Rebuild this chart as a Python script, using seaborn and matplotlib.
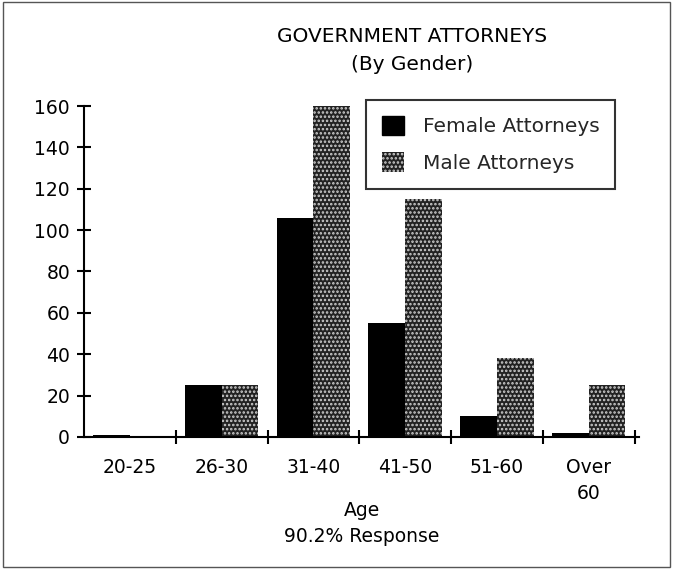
import matplotlib
matplotlib.use("Agg")
import matplotlib.pyplot as plt
import seaborn as sns
import pandas as pd
from matplotlib.patches import Patch, Rectangle

ages = ["20-25", "26-30", "31-40", "41-50", "51-60", "Over\n60"]
female = [1, 25, 106, 55, 10, 2]
male = [0, 25, 160, 115, 38, 25]
series = ["Female Attorneys", "Male Attorneys"]
yticks = [0, 20, 40, 60, 80, 100, 120, 140, 160]

df = pd.DataFrame({
    "Age": ages * 2,
    "Count": female + male,
    "Gender": [series[0]] * len(ages) + [series[1]] * len(ages),
})

sns.set_theme(style="white")
plt.rcParams["font.family"] = ["DejaVu Sans"]
plt.rcParams["hatch.linewidth"] = 1.2

FS = 13.5
MALE_FACE = "#222222"
DOT = "#cfcfcf"

fig = plt.figure(figsize=(6.73, 5.69), dpi=100)
ax = fig.add_axes([0.1248, 0.232, 0.825, 0.5817])

sns.barplot(data=df, x="Age", y="Count", hue="Gender", order=ages,
            hue_order=series, palette=["black", MALE_FACE], width=0.8,
            saturation=1, ax=ax, legend=False, linewidth=0)

n = len(ages)
for i, p in enumerate(ax.patches[: 2 * n]):
    if i >= n:
        p.set_facecolor(MALE_FACE)
        p.set_hatch("....")
        p.set_edgecolor(DOT)
        p.set_linewidth(0)

ax.set_xlim(-0.5, 5.55)
ax.set_ylim(0, 160)
ax.set_yticks(yticks)
ax.set_yticklabels([str(v) for v in yticks])
ax.set_xticks(range(n))
ax.set_xticklabels(ages, linespacing=1.5)
ax.set_xticks([i + 0.5 for i in range(n)], minor=True)

for s in ["top", "right"]:
    ax.spines[s].set_visible(False)
for s in ["left", "bottom"]:
    ax.spines[s].set_color("black")
    ax.spines[s].set_linewidth(1.5)

ax.tick_params(axis="y", which="major", direction="inout", length=10, width=1.5,
               left=True, labelsize=FS, colors="black", pad=5)
ax.tick_params(axis="x", which="major", length=0, labelsize=FS, colors="black", pad=15)
ax.tick_params(axis="x", which="minor", direction="inout", length=10, width=1.5,
               bottom=True, colors="black")
ax.set_xlabel("Age\n90.2% Response", fontsize=FS, color="black", labelpad=-1.5,
              linespacing=1.45)
ax.set_ylabel("")

fig.text(0.612, 0.935, "GOVERNMENT ATTORNEYS", ha="center", va="center",
         fontsize=14.5, color="black")
fig.text(0.612, 0.886, "(By Gender)", ha="center", va="center",
         fontsize=14.5, color="black")

handles = [
    Patch(facecolor="black", edgecolor="black"),
    Patch(facecolor=MALE_FACE, hatch="....", edgecolor=DOT, linewidth=0),
]
leg = ax.legend(handles, series, loc="upper left", bbox_to_anchor=(0.49, 1.05),
                frameon=True, fontsize=14.5, handlelength=1.1, handleheight=1.1,
                borderpad=0.8, labelspacing=0.8, handletextpad=0.9, fancybox=False)
leg.get_frame().set_edgecolor("black")
leg.get_frame().set_linewidth(1.5)

fig.patches.append(Rectangle((0.004, 0.004), 0.992, 0.992, transform=fig.transFigure,
                             fill=False, edgecolor="#555555", linewidth=1))

fig.savefig("out.png", dpi=100)
